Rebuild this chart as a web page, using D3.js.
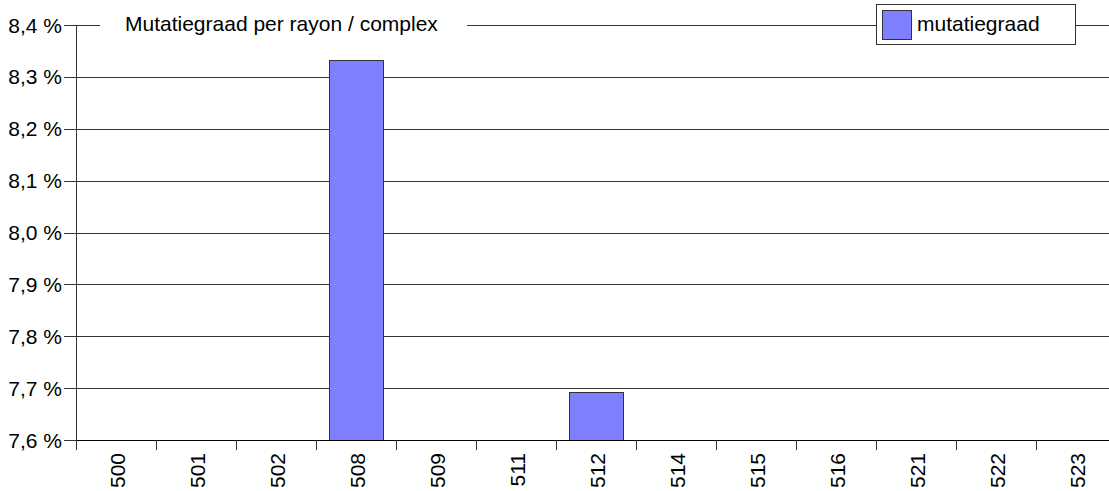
<!DOCTYPE html>
<html><head><meta charset="utf-8">
<script src="https://cdn.jsdelivr.net/npm/d3@7"></script>
<style>body{margin:0;background:#fff}svg{display:block;font-family:"Liberation Sans",Arial,sans-serif}</style>
</head><body><svg id="c" width="1109" height="491"></svg>
<script>
const categories = ["500","501","502","508","509","511","512","514","515","516","521","522","523"];
const values = [0,0,0,8.333,0,0,7.692,0,0,0,0,0,0];
const yTicks = [7.6,7.7,7.8,7.9,8.0,8.1,8.2,8.3,8.4];
const title = "Mutatiegraad per rayon / complex";
const seriesName = "mutatiegraad";

const svg = d3.select("#c");
const FS = 21;
const L = 76, R = 1116, T = 25, B = 440;
const x = d3.scaleBand().domain(categories).range([L, R]).paddingInner(0.325).paddingOuter(0.1625);
const xb = d3.scaleBand().domain(categories).range([L, R]);
const y = d3.scaleLinear().domain([7.6, 8.4]).range([B, T]);
const fmt = v => d3.format(".1f")(v).replace(".", ",") + " %";

// grid
svg.append("g").selectAll("line").data(yTicks).join("line")
  .attr("x1", 64).attr("x2", 1109).attr("y1", d => Math.round(y(d)) + 0.5).attr("y2", d => Math.round(y(d)) + 0.5)
  .attr("stroke", "#333").attr("stroke-width", 1);

// y labels
svg.append("g").selectAll("text").data(yTicks).join("text")
  .attr("x", 62).attr("y", d => y(d) + 7.5).attr("text-anchor", "end")
  .attr("font-size", FS).attr("fill", "#000").text(fmt);

// bars
const clipId = "pc";
svg.append("clipPath").attr("id", clipId).append("rect").attr("x", L).attr("y", 0).attr("width", R - L).attr("height", B + 1);
svg.append("g").attr("clip-path", `url(#${clipId})`).selectAll("rect").data(categories.map((c, i) => ({c, v: values[i]}))).join("rect")
  .filter(d => d.v > 7.6)
  .attr("x", d => Math.round(x(d.c)) + 0.5).attr("width", Math.round(x.bandwidth()))
  .attr("y", d => Math.round(y(d.v)) + 0.5).attr("height", d => Math.round(B - y(d.v)))
  .attr("fill", "#8080ff").attr("stroke", "#333").attr("stroke-width", 1);

// axes lines
svg.append("line").attr("x1", L + 0.5).attr("x2", L + 0.5).attr("y1", T).attr("y2", B + 10).attr("stroke", "#333");
svg.append("line").attr("x1", L).attr("x2", 1109).attr("y1", B + 0.5).attr("y2", B + 0.5).attr("stroke", "#000");
svg.append("g").selectAll("line").data(categories).join("line")
  .attr("x1", d => Math.round(xb(d)) + 0.5).attr("x2", d => Math.round(xb(d)) + 0.5)
  .attr("y1", B).attr("y2", B + 10).attr("stroke", "#333");

// x labels
svg.append("g").selectAll("text").data(categories).join("text")
  .attr("transform", d => `translate(${xb(d) + xb.bandwidth() / 2 + 9},453) rotate(-90)`)
  .attr("text-anchor", "end").attr("font-size", FS).attr("fill", "#000").text(d => d);

// title
svg.append("rect").attr("x", 100).attr("y", 10).attr("width", 367).attr("height", 30).attr("fill", "#fff");
svg.append("text").attr("x", 125).attr("y", 31).attr("font-size", FS).attr("fill", "#000").text(title);

// legend
svg.append("rect").attr("x", 876.5).attr("y", 4.5).attr("width", 199).attr("height", 40).attr("fill", "#fff").attr("stroke", "#333");
svg.append("rect").attr("x", 882.5).attr("y", 10.5).attr("width", 29).attr("height", 29).attr("fill", "#8080ff").attr("stroke", "#333");
svg.append("text").attr("x", 917).attr("y", 31).attr("font-size", FS).attr("fill", "#000").text(seriesName);
</script></body></html>
